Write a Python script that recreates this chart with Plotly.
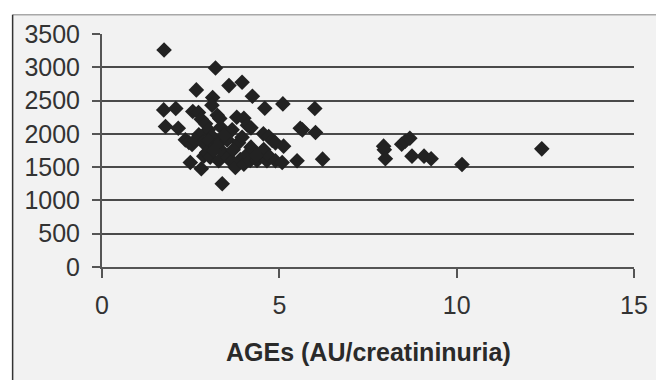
import plotly.graph_objects as go

ages = [1.75, 3.20, 2.66, 3.58, 3.95, 4.24, 3.12, 3.10, 4.59, 5.10, 6.00,
        1.74, 2.08, 2.56, 2.72, 3.25, 3.32, 3.80, 4.00, 4.10, 4.20,
        1.79, 2.15, 2.80, 2.92, 3.00, 3.35, 3.67, 3.10, 2.35, 2.45,
        2.54, 2.73, 2.62, 2.85, 3.00, 3.20, 3.30, 3.53, 3.45, 3.85,
        3.95, 4.55, 4.70, 4.80, 4.89, 5.12, 5.59, 5.65, 6.02,
        2.49, 2.80, 2.87, 2.95, 3.05, 3.29, 3.43, 3.55, 3.65, 3.76,
        3.90, 4.00, 4.09, 4.18, 4.28, 4.37, 4.46, 4.50, 4.56, 4.65,
        4.72, 4.89, 5.08, 5.50, 6.22, 3.39, 3.15, 3.70, 4.20, 4.35,
        7.94, 7.96, 7.99, 8.45, 8.55, 8.68, 8.74, 9.08, 9.28, 10.15, 12.40]
values = [3260, 2990, 2660, 2725, 2775, 2565, 2545, 2430, 2385, 2450, 2380,
          2360, 2380, 2335, 2320, 2280, 2230, 2250, 2235, 2130, 2090,
          2110, 2085, 2220, 2150, 2060, 2100, 2060, 1965, 1910, 1870,
          1840, 1985, 1900, 1870, 1900, 1815, 1860, 1910, 1980, 1865,
          1950, 2000, 1960, 1900, 1865, 1815, 2085, 2060, 2020,
          1570, 1475, 1665, 1720, 1650, 1595, 1715, 1650, 1580, 1495,
          1615, 1545, 1690, 1600, 1740, 1600, 1665, 1720, 1765, 1595,
          1660, 1595, 1570, 1595, 1620, 1250, 1750, 1760, 1800, 1680,
          1815, 1760, 1625, 1845, 1890, 1935, 1665, 1665, 1625, 1540, 1775]

y_ticks = [0, 500, 1000, 1500, 2000, 2500, 3000, 3500]
y_grid = [500, 1000, 1500, 2000, 2500, 3000]
x_ticks = [0, 5, 10, 15]
x_title = "AGEs (AU/creatininuria)"

fig = go.Figure()
fig.add_trace(go.Scatter(
    x=ages, y=values, mode="markers",
    marker=dict(symbol="diamond", size=12, color="#222222", line=dict(width=0)),
    showlegend=False, hoverinfo="skip"))

# background panel with border (paper coords relative to plot area)
fig.add_shape(type="rect", xref="paper", yref="paper", x0=-0.168, x1=1.1, y0=-0.7, y1=1.083,
              fillcolor="#f2f2f2", line=dict(width=0), layer="below")
fig.add_shape(type="line", xref="paper", yref="paper", x0=-0.168, x1=1.1, y0=1.083, y1=1.083,
              line=dict(color="#a8a8a8", width=1.5), layer="below")
fig.add_shape(type="line", xref="paper", yref="paper", x0=-0.168, x1=-0.168, y0=-0.7, y1=1.083,
              line=dict(color="#333333", width=1.5), layer="below")

fig.add_annotation(text="<b>" + x_title + "</b>", xref="paper", yref="paper",
                   x=0.5, y=-0.363, xanchor="center", yanchor="middle", showarrow=False,
                   font=dict(family="Liberation Sans, Arial", size=25, color="#2a2a2a"))

fig.update_layout(
    width=656, height=372,
    margin=dict(l=93.5, r=29.5, t=20.7, b=113.3, pad=0),
    paper_bgcolor="white", plot_bgcolor="rgba(0,0,0,0)",
    font=dict(family="Liberation Sans, Arial", size=25, color="#333333"),
)
fig.update_xaxes(
    range=[0, 15], tickmode="array", tickvals=x_ticks, showgrid=False, zeroline=False,
    showline=True, linecolor="#555555", linewidth=2,
    ticks="outside", ticklen=9, tickwidth=2, tickcolor="#555555",
    ticklabelstandoff=6, fixedrange=True)
fig.update_yaxes(
    range=[0, 3500], tickmode="array", tickvals=y_ticks, showgrid=False, zeroline=False,
    showline=True, linecolor="#555555", linewidth=2,
    ticks="outside", ticklen=8, tickwidth=2, tickcolor="#555555",
    ticklabelstandoff=7,
    minor=dict(tickmode="array", tickvals=y_grid, showgrid=True, gridcolor="#4a4a4a",
               gridwidth=2, ticks=""),
    fixedrange=True)

fig.write_html("out.html")
